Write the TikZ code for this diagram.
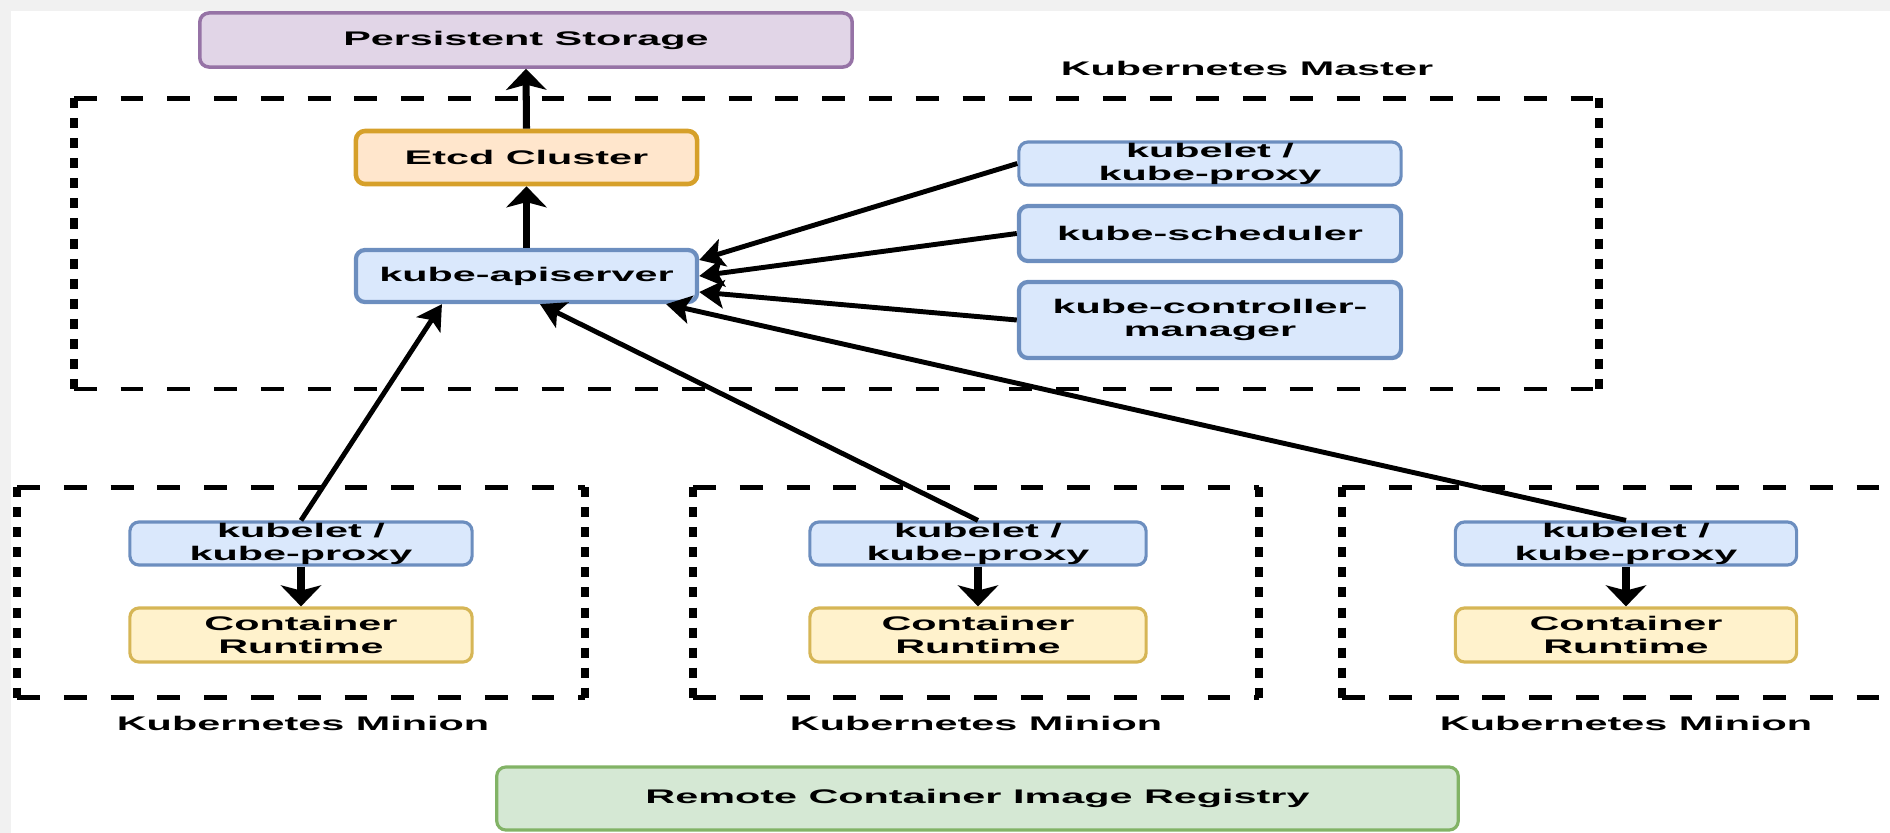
\documentclass[tikz,border=0pt]{standalone}
\usepackage{fontspec}
\newfontfamily\labfont[FakeStretch=2.1]{Liberation Sans}
\usetikzlibrary{arrows.meta}
\definecolor{stfill}{HTML}{E1D5E7}
\definecolor{stline}{HTML}{9673A6}
\definecolor{etfill}{HTML}{FFE6CC}
\definecolor{etline}{HTML}{D6A02A}
\definecolor{blfill}{HTML}{DAE8FC}
\definecolor{blline}{HTML}{6C8EBF}
\definecolor{rtfill}{HTML}{FFF2CC}
\definecolor{rtline}{HTML}{D6B656}
\definecolor{rgfill}{HTML}{D5E8D4}
\definecolor{rgline}{HTML}{82B366}
\definecolor{strip}{HTML}{F1F1F1}
\begin{document}
\begin{tikzpicture}[x=0.01cm,y=-0.01cm,
  lab/.style={font=\labfont\bfseries\fontsize{5.6}{6.5}\selectfont, align=center, inner sep=0pt},
  box/.style={lab, draw, rounded corners=2.6pt},
  stbox/.style={box, fill=stfill, draw=stline, line width=1pt},
  etbox/.style={box, fill=etfill, draw=etline, line width=1.3pt},
  blbox/.style={box, fill=blfill, draw=blline, line width=0.9pt},
  blthick/.style={box, fill=blfill, draw=blline, line width=1.2pt},
  rtbox/.style={box, fill=rtfill, draw=rtline, line width=0.9pt},
  rgbox/.style={box, fill=rgfill, draw=rgline, line width=0.9pt},
  frame/.style={inner sep=0pt},
  hdash/.style={line width=1.3pt, dash pattern=on 6.5pt off 6.8pt},
  vdash/.style={line width=2.1pt, dash pattern=on 2.85pt off 2.85pt},
  conn/.style={line width=1.4pt, -{Stealth[length=7pt,width=8pt,inset=1.6pt]}},
  vconn/.style={line width=2pt, -{Stealth[length=6pt,width=11.5pt,inset=1.5pt]}}
]
\useasboundingbox (0,0) rectangle (1890,833);
\fill[strip] (0,0) rectangle (1890,11);
\fill[strip] (0,0) rectangle (11,833);

% frames
\node[frame, minimum width=15.23cm, minimum height=2.89cm] (master) at (836.5,243.5) {};
\node[frame, minimum width=5.66cm, minimum height=2.09cm] (m1) at (301,592.5) {};
\node[frame, minimum width=5.64cm, minimum height=2.09cm] (m2) at (976,592.5) {};
\node[frame, minimum width=5.66cm, minimum height=2.09cm] (m3) at (1626,592.5) {};
\foreach \f in {master,m1,m2,m3}{
  \draw[hdash] (\f.north west) -- (\f.north east) (\f.south west) -- (\f.south east);
  \draw[vdash] (\f.north west) -- (\f.south west) (\f.north east) -- (\f.south east);
}

% labels
\node[lab] (mlab) at (1247,68) {Kubernetes Master};
\node[lab] (l1) at (303,723) {Kubernetes Minion};
\node[lab] (l2) at (976,723) {Kubernetes Minion};
\node[lab] (l3) at (1626,723) {Kubernetes Minion};

% master nodes
\node[stbox, minimum width=6.52cm, minimum height=0.54cm] (storage) at (526,40) {Persistent Storage};
\node[etbox, minimum width=3.41cm, minimum height=0.53cm] (etcd) at (526.5,157.5) {Etcd Cluster};
\node[blthick, minimum width=3.41cm, minimum height=0.52cm] (api) at (526.5,276) {kube-apiserver};
\node[blbox, minimum width=3.82cm, minimum height=0.43cm] (mk) at (1210,163.5) {kubelet /\\kube-proxy};
\node[blthick, minimum width=3.82cm, minimum height=0.55cm] (sched) at (1210,233.5) {kube-scheduler};
\node[blthick, minimum width=3.82cm, minimum height=0.76cm] (ctrl) at (1210,320) {kube-controller-\\manager};

% minion nodes
\node[blbox, minimum width=3.42cm, minimum height=0.43cm] (k1) at (301,543.5) {kubelet /\\kube-proxy};
\node[blbox, minimum width=3.36cm, minimum height=0.43cm] (k2) at (978,543.5) {kubelet /\\kube-proxy};
\node[blbox, minimum width=3.41cm, minimum height=0.43cm] (k3) at (1626,543.5) {kubelet /\\kube-proxy};
\node[rtbox, minimum width=3.42cm, minimum height=0.54cm] (r1) at (301,635) {Container\\Runtime};
\node[rtbox, minimum width=3.36cm, minimum height=0.54cm] (r2) at (978,635) {Container\\Runtime};
\node[rtbox, minimum width=3.41cm, minimum height=0.54cm] (r3) at (1626,635) {Container\\Runtime};

\node[rgbox, minimum width=9.61cm, minimum height=0.63cm] (reg) at (977.5,798.5) {Remote Container Image Registry};

% connectors
\draw[vconn] (etcd.north) -- (storage.south);
\draw[vconn] (api.north) -- (etcd.south);
\draw[conn] (mk.west) -- ([yshift=0.16cm]api.east);
\draw[conn] (sched.west) -- (api.east);
\draw[conn] (ctrl.west) -- ([yshift=-0.16cm]api.east);
\draw[conn] (k1.north) -- ([xshift=-0.845cm]api.south);
\draw[conn] (k2.north) -- ([xshift=0.135cm]api.south);
\draw[conn] (k3.north) -- ([xshift=1.395cm]api.south);
\draw[vconn] (k1.south) -- (r1.north);
\draw[vconn] (k2.south) -- (r2.north);
\draw[vconn] (k3.south) -- (r3.north);
\end{tikzpicture}
\end{document}
